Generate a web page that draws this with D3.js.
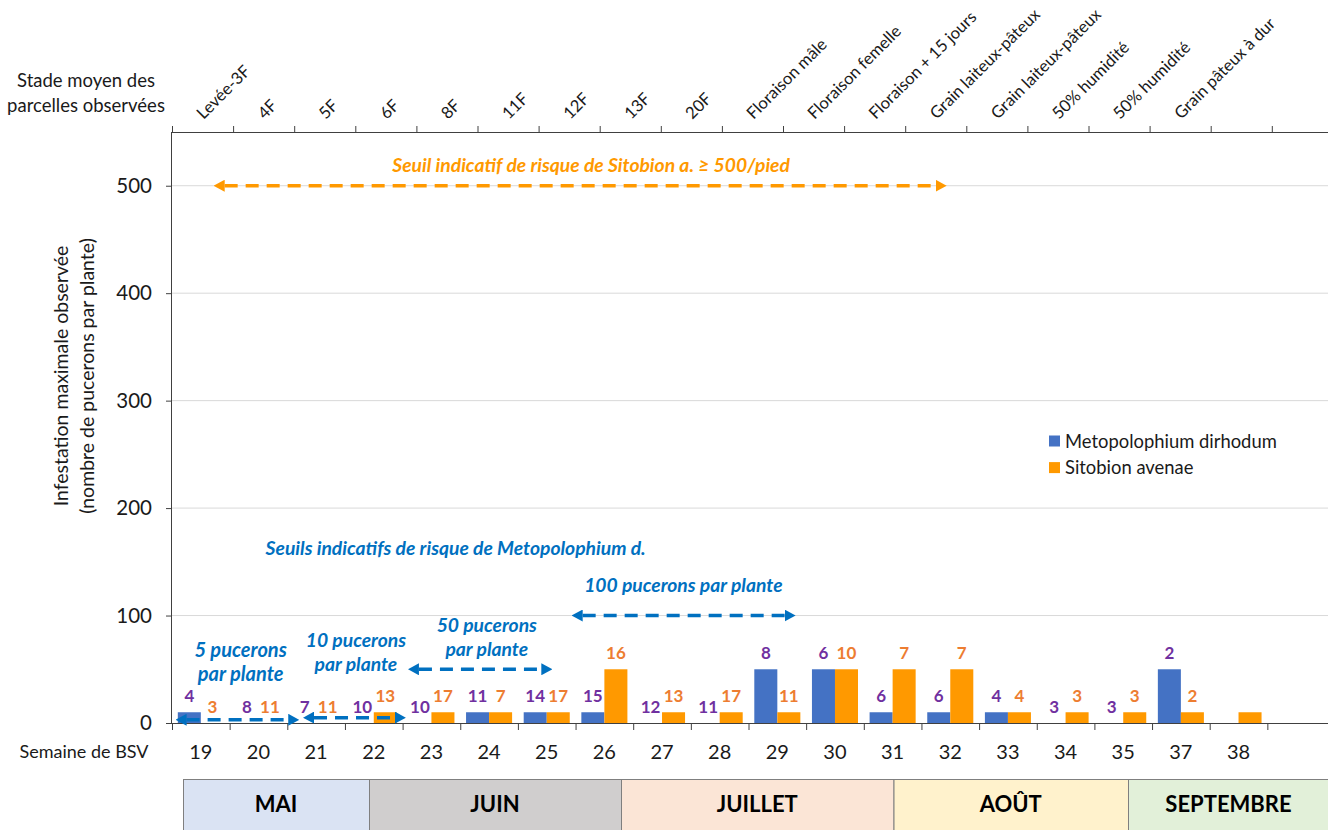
<!DOCTYPE html>
<html lang="fr">
<head>
<meta charset="utf-8">
<script src="https://cdn.jsdelivr.net/npm/d3@7/dist/d3.min.js"></script>
<style>
  html, body { margin: 0; padding: 0; background: #fff; }
  svg { display: block; font-family: Lato, "Open Sans", sans-serif; }
</style>
</head>
<body>
<svg id="chart" width="1328" height="830"></svg>
<script>
// Semaines de BSV
const weeks = ["19","20","21","22","23","24","25","26","27","28","29","30","31","32","33","34","35","37","38"];
// Stade moyen des parcelles observées
const stages = ["Levée-3F","4F","5F","6F","8F","11F","12F","13F","20F","Floraison mâle","Floraison femelle",
  "Floraison + 15 jours","Grain laiteux-pâteux","Grain laiteux-pâteux","50% humidité","50% humidité","Grain pâteux à dur"];
// Classes d'infestation maximale (pucerons par plante)
const metopolophium = [10,0,0,0,0,10,10,10,0,0,50,50,10,10,10,0,0,50,0];
const sitobion      = [0,0,0,10,10,10,10,50,10,10,10,50,50,50,10,10,10,10,10];
// Nombre de parcelles observées
const metopolophiumCounts = [4,8,7,10,10,11,14,15,12,11,8,6,6,6,4,3,3,2,null];
const sitobionCounts      = [3,11,11,13,17,7,17,16,13,17,11,10,7,7,4,3,3,2,null];
// Mois
const months = ["MAI","JUIN","JUILLET","AOÛT","SEPTEMBRE"];
const seriesNames = ["Metopolophium dirhodum","Sitobion avenae"];

const plot = { left: 172, right: 1328, top: 132, bottom: 723 };
const svg = d3.select("#chart");

const colors = { meto: "#4472C4", sito: "#FF9900", metoLbl: "#7030A0", sitoLbl: "#ED7D31", note: "#0070C0" };
const ink = "#1a1a1a";

const x0 = d3.scaleBand().domain(weeks).range([plot.left, plot.left + weeks.length * 57.65]);
const x1 = d3.scaleBand().domain(["meto","sito"]).range([5.8, x0.bandwidth() - 5.8]);
const y = d3.scaleLinear().domain([0, 550]).range([plot.bottom, plot.top]);
// Position continue en unités de semaine (pour les annotations)
const xw = d3.scaleLinear().domain([0, weeks.length]).range(x0.range());
const xs = d3.scaleBand().domain(d3.range(19)).range([plot.left, plot.left + 19 * 61.1]);

// Quadrillage
svg.append("g").selectAll("line").data([100,200,300,400,500]).join("line")
  .attr("x1", plot.left).attr("x2", plot.right)
  .attr("y1", d => y(d)).attr("y2", d => y(d))
  .attr("stroke", "#d9d9d9").attr("stroke-width", 1);

// Axe Y
const yAxis = svg.append("g").attr("transform", `translate(${plot.left},0)`)
  .call(d3.axisLeft(y).tickValues([0,100,200,300,400,500]).tickSize(6).tickPadding(14).tickFormat(d3.format("d")));
yAxis.select(".domain").attr("stroke", "#404040").attr("d", `M-0.5,${plot.top}V${plot.bottom}`);
yAxis.selectAll(".tick line").attr("stroke", "#404040");
yAxis.selectAll(".tick text").attr("font-size", 20.5).attr("fill", ink).attr("font-family", "Lato, sans-serif");

// Titre axe Y
const yt = svg.append("text").attr("transform", `translate(75,376) rotate(-90)`)
  .attr("text-anchor", "middle").attr("font-size", 19.5).attr("fill", ink);
yt.append("tspan").attr("x", 0).attr("dy", "-0.35em").text("Infestation maximale observée");
yt.append("tspan").attr("x", 0).attr("dy", "1.33em").text("(nombre de pucerons par plante)");

// Axe du haut : stades
svg.append("line").attr("x1", plot.left).attr("x2", plot.right).attr("y1", plot.top + 0.5).attr("y2", plot.top + 0.5)
  .attr("stroke", "#404040");
svg.append("g").selectAll("line").data(d3.range(19)).join("line")
  .attr("x1", d => xs(d) + 0.5).attr("x2", d => xs(d) + 0.5)
  .attr("y1", plot.top - 6).attr("y2", plot.top).attr("stroke", "#404040");
svg.append("g").selectAll("text").data(stages).join("text")
  .attr("transform", (d, i) => `translate(${xs(i) + xs.bandwidth() / 2 + 1},${plot.top - 12}) rotate(-45)`)
  .attr("font-size", 16.6).attr("fill", ink).text(d => d);
const st = svg.append("text").attr("text-anchor", "middle").attr("font-size", 18.5).attr("fill", ink);
st.append("tspan").attr("x", 86).attr("y", 87).text("Stade moyen des");
st.append("tspan").attr("x", 86).attr("y", 112).text("parcelles observées");

// Axe du bas : semaines
svg.append("line").attr("x1", plot.left).attr("x2", plot.right).attr("y1", plot.bottom + 0.5).attr("y2", plot.bottom + 0.5)
  .attr("stroke", "#404040");
svg.append("g").selectAll("line").data(weeks.concat(["end"])).join("line")
  .attr("x1", (d, i) => xw(i) + 0.5).attr("x2", (d, i) => xw(i) + 0.5)
  .attr("y1", plot.bottom).attr("y2", plot.bottom + 7).attr("stroke", "#404040");
svg.append("g").selectAll("text").data(weeks).join("text")
  .attr("x", d => x0(d) + x0.bandwidth() / 2).attr("y", 759)
  .attr("text-anchor", "middle").attr("font-size", 20).attr("fill", ink).text(d => d);
svg.append("text").attr("x", 84).attr("y", 758).attr("text-anchor", "middle")
  .attr("font-size", 18).attr("fill", ink).text("Semaine de BSV");

// Barres
const rows = weeks.map((w, i) => ({ week: w,
  vals: [{ key: "meto", v: metopolophium[i], n: metopolophiumCounts[i] },
         { key: "sito", v: sitobion[i], n: sitobionCounts[i] }] }));
const groups = svg.append("g").selectAll("g").data(rows).join("g")
  .attr("transform", d => `translate(${x0(d.week)},0)`);
groups.selectAll("rect").data(d => d.vals.filter(e => e.v > 0)).join("rect")
  .attr("x", d => x1(d.key)).attr("width", x1.bandwidth())
  .attr("y", d => y(d.v)).attr("height", d => y(0) - y(d.v))
  .attr("fill", d => colors[d.key]);
groups.selectAll("text").data(d => d.vals.filter(e => e.n != null)).join("text")
  .attr("x", d => x1(d.key) + x1.bandwidth() / 2).attr("y", d => y(d.v) - 10.5)
  .attr("text-anchor", "middle").attr("font-size", 17).attr("font-weight", 700)
  .attr("fill", d => d.key === "meto" ? colors.metoLbl : colors.sitoLbl).text(d => d.n);

// Flèches de seuils
const defs = svg.append("defs");
[["arrow-blue", colors.note], ["arrow-orange", colors.sito]].forEach(([id, c]) => {
  defs.append("marker").attr("id", id).attr("viewBox", "0 -6 11 12")
    .attr("refX", 0).attr("refY", 0).attr("markerWidth", 11).attr("markerHeight", 12)
    .attr("markerUnits", "userSpaceOnUse").attr("orient", "auto-start-reverse")
    .append("path").attr("d", "M0,-6L11,0L0,6Z").attr("fill", c);
});
function arrow(a, b, v, id, c) {
  svg.append("line").attr("x1", xw(a) + 10).attr("x2", xw(b) - 10)
    .attr("y1", y(v)).attr("y2", y(v))
    .attr("stroke", c).attr("stroke-width", 3.5).attr("stroke-dasharray", "13,8")
    .attr("marker-start", `url(#${id})`).attr("marker-end", `url(#${id})`);
}
arrow(0.74, 13.42, 500, "arrow-orange", colors.sito);
arrow(6.95, 10.8, 100, "arrow-blue", colors.note);
arrow(4.11, 6.58, 50, "arrow-blue", colors.note);
arrow(2.29, 4.04, 5, "arrow-blue", colors.note);
arrow(0.08, 2.19, 3, "arrow-blue", colors.note);

function note(lines, xc, yb, c, size) {
  const t = svg.append("text").attr("text-anchor", "middle").attr("font-size", size || 19.3)
    .attr("font-weight", 700).attr("font-style", "italic").attr("fill", c);
  lines.forEach((l, i) => t.append("tspan").attr("x", xc).attr("y", yb + i * 23.5).text(l));
}
note(["Seuil indicatif de risque de Sitobion a. ≥ 500/pied"], xw(7.27), 172, colors.sito);
note(["Seuils indicatifs de risque de Metopolophium d."], xw(4.92), 555, colors.note);
note(["100 pucerons par plante"], xw(8.87), 592, colors.note);
note(["50 pucerons", "par plante"], xw(5.46), 632, colors.note);
note(["10 pucerons", "par plante"], xw(3.19), 647, colors.note);
note(["5 pucerons", "par plante"], xw(1.19), 657, colors.note, 20);

// Légende
const leg = svg.append("g").attr("transform", "translate(1049,435.5)");
seriesNames.forEach((n, i) => {
  leg.append("rect").attr("x", 0).attr("y", i * 26.6).attr("width", 11).attr("height", 11)
    .attr("fill", i === 0 ? colors.meto : colors.sito);
  leg.append("text").attr("x", 16).attr("y", i * 26.6 + 12).attr("font-size", 18.4)
    .attr("fill", ink).text(n);
});

// Bandeau des mois
const monthEdges = [183, 369, 621, 893.5, 1128, 1329];
const monthFill = ["#DAE3F3", "#D0CECE", "#FBE5D6", "#FFF2CC", "#E2F0D9"];
const mg = svg.append("g");
months.forEach((m, i) => {
  mg.append("rect").attr("x", monthEdges[i] + 0.5).attr("y", 779.5)
    .attr("width", monthEdges[i + 1] - monthEdges[i]).attr("height", 60)
    .attr("fill", monthFill[i]).attr("stroke", "#7f7f7f").attr("stroke-width", 1);
  mg.append("text").attr("x", (monthEdges[i] + monthEdges[i + 1]) / 2).attr("y", 812)
    .attr("text-anchor", "middle").attr("font-size", 22).attr("font-weight", 700)
    .attr("fill", "#000").text(m);
});
</script>
</body>
</html>
